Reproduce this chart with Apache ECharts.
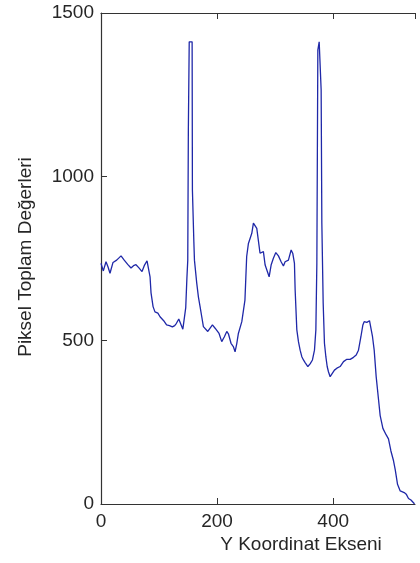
<!DOCTYPE html>
<html>
<head>
<meta charset="utf-8">
<script src="https://cdn.jsdelivr.net/npm/echarts@6/dist/echarts.min.js"></script>
<style>
  html, body { margin: 0; padding: 0; background: #fff; }
  #chart { width: 420px; height: 563px; }
</style>
</head>
<body>
<div id="chart"></div>
<script>
// Row position along the image (Y coordinate) and the summed pixel value at that row
const yCoord = [
  0, 1.7, 4, 8.6, 12, 15.5, 20.7, 27, 34.5, 40, 46, 51.7, 56, 60.3, 65, 70.7, 75, 79.3, 82,
  84.5, 86.2, 89.7, 93, 98, 101.7, 108, 113, 118, 123, 127, 130, 134, 137, 141, 143, 146,
  148, 149.5, 150.5, 152, 157, 157.5, 160, 161, 165, 167.8, 170.7, 173.6, 176.4, 179.3,
  184, 188, 192, 196.6, 200, 203.4, 208, 212.6, 216.7, 219.5, 224, 228, 231, 234, 236.7,
  242.6, 245.3, 248, 249.5, 251, 254, 257, 259.8, 262.6, 265.5, 268.4, 271, 274, 277,
  279.8, 282.8, 285.7, 289.7, 293.1, 297, 301.2, 305.7, 310.3, 314.3, 317.2, 320.2, 322.9,
  327.6, 330.5, 333.3, 334.5, 337.4, 340.2, 343.1, 346, 348.8, 351.7, 356.4, 360.3, 364.3,
  367.8, 370.2, 371.9, 373.6, 375.9, 377.6, 379.3, 380.5, 382.8, 385, 387.4, 389.7, 391.9,
  394.8, 397.8, 402.2, 406.4, 412, 417.8, 423.6, 429.3, 435, 439.7, 443.6, 447.8, 451.2,
  453.4, 458, 462.6, 465.5, 467.8, 470.7, 474.1, 478.1, 481, 485.7, 491.4, 495.3, 499.5,
  504, 507, 510.9, 515.5, 522.4, 525.9, 529.8, 534, 538.4, 540
];
const pixelSum = [
  735, 737, 712, 740, 725, 705, 738, 745, 758, 745, 732, 721, 728, 731, 722, 710, 730, 743, 738,
  694, 645, 603, 587, 583, 572, 560, 547, 545, 541, 545, 552, 565, 560, 534, 560, 600,
  690, 745, 1143, 1412, 1412, 959, 800, 745, 674, 633, 603, 572, 542, 537,
  527, 537, 547, 537, 542, 521, 496, 511, 527, 520, 491, 481, 465, 491, 521,
  557, 563, 623, 690, 756, 796, 812, 827, 858, 862, 842, 807, 766, 762,
  771, 730, 725, 694, 730, 751, 768, 758, 740, 727, 740, 735, 745,
  776, 765, 735, 654, 532, 496, 470, 450, 440, 432, 420, 428, 440,
  470, 532, 735, 1387, 1412, 1412, 1265, 858, 613, 491, 450, 420, 404,
  389, 393, 409, 415, 420, 435, 442, 442, 448, 455, 470, 511, 547,
  557, 555, 560, 557, 511, 470, 389, 320, 270, 231, 211, 199, 162,
  132, 104, 60, 40, 35, 30, 17, 12, 4, 0
];
const xTicks = [0, 200, 400];
const yTicks = [0, 500, 1000, 1500];
const xMax = 541;
const xTitle = 'Y Koordinat Ekseni';
const yTitle = 'Piksel Toplam Değerleri';

const FONT = "'Liberation Sans', Arial, sans-serif";
const INK = '#262626';

const chart = echarts.init(document.getElementById('chart'), null, { renderer: 'canvas' });

const axisLineStyle = { show: true, lineStyle: { color: '#333', width: 1.2 } };
const tickStyle = { show: true, inside: true, length: 6, lineStyle: { color: '#333', width: 1 } };
const labelStyle = { color: INK, fontFamily: FONT, fontSize: 19, formatter: v => String(v) };

chart.setOption({
  animation: false,
  backgroundColor: '#fff',
  grid: { left: 101, top: 13, right: 5, bottom: 59, containLabel: false, outerBoundsMode: 'none' },
  xAxis: [
    {
      type: 'value', min: xTicks[0], max: xMax, interval: xTicks[1] - xTicks[0],
      axisLine: axisLineStyle, axisTick: tickStyle,
      axisLabel: Object.assign({ margin: 8, showMaxLabel: false }, labelStyle),
      splitLine: { show: false }
    },
    {
      type: 'value', position: 'top', min: xTicks[0], max: xMax, interval: xTicks[1] - xTicks[0],
      axisLine: axisLineStyle, axisTick: tickStyle,
      axisLabel: { show: false }, splitLine: { show: false }
    }
  ],
  yAxis: {
    type: 'value', min: yTicks[0], max: yTicks[yTicks.length - 1], interval: yTicks[1] - yTicks[0],
    axisLine: axisLineStyle, axisTick: tickStyle,
    axisLabel: Object.assign({ margin: 7 }, labelStyle),
    splitLine: { show: false }
  },
  graphic: [
    {
      type: 'text', x: 301, y: 545,
      style: { text: xTitle, fill: INK, font: '19px ' + FONT, textAlign: 'center', textVerticalAlign: 'middle' }
    },
    {
      type: 'text', x: 26, y: 257, rotation: Math.PI / 2,
      style: { text: yTitle, fill: INK, font: '19px ' + FONT, textAlign: 'center', textVerticalAlign: 'middle' }
    }
  ],
  series: [{
    type: 'line',
    data: yCoord.map((x, i) => [x, pixelSum[i]]),
    showSymbol: false,
    symbol: 'none',
    sampling: null,
    lineStyle: { color: '#1f28a8', width: 1.3 },
    silent: true
  }]
});
</script>
</body>
</html>
